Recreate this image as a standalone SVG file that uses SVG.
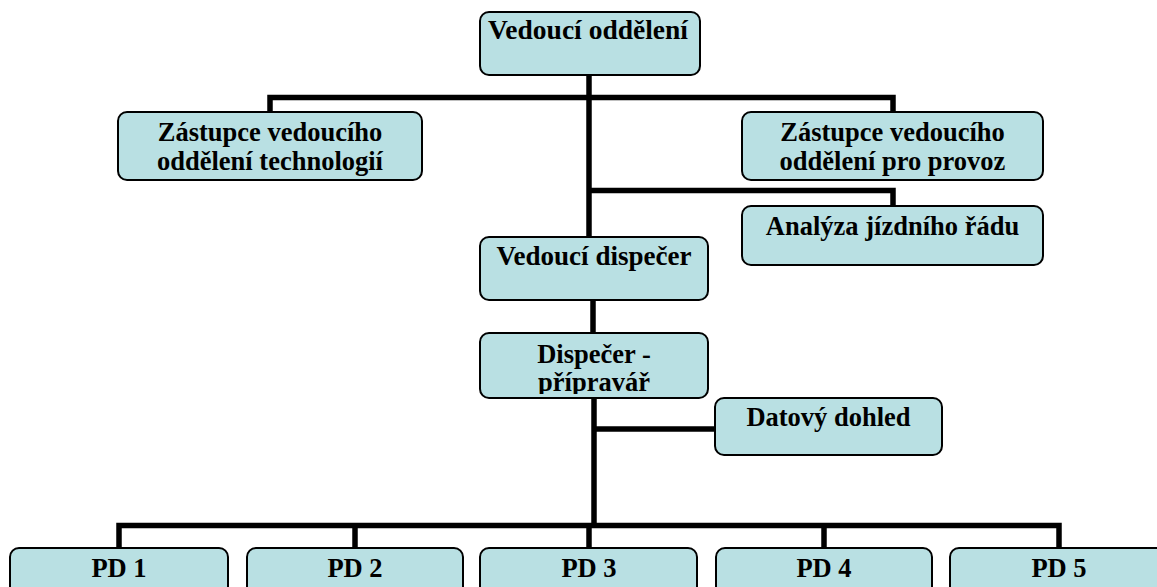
<svg xmlns="http://www.w3.org/2000/svg" width="1157" height="587" viewBox="0 0 1157 587">
<style>
.box{fill:#B9E0E3;stroke:#000;stroke-width:2}
.t{font-family:"Liberation Serif","Times New Roman",serif;font-weight:bold;font-size:26.5px;fill:#000;text-anchor:middle}
.c{fill:none;stroke:#000;stroke-width:5.5;stroke-linejoin:miter}
</style>
<defs>
<clipPath id="clipDisp"><rect x="480" y="333" width="228" height="61"/></clipPath>
</defs>
<rect width="1157" height="587" fill="#fff"/>
<g id="connectors">
<path class="c" d="M589 75 V237"/>
<path class="c" d="M270 112 V97.5 H893 V112"/>
<path class="c" d="M589 190.5 H893 V206"/>
<path class="c" d="M593 300 V333"/>
<path class="c" d="M594 398 V528"/>
<path class="c" d="M594 429 H715"/>
<path class="c" d="M119 548 V525.5 H1059 V548"/>
<path class="c" d="M355 525.5 V548"/>
<path class="c" d="M589 525.5 V548"/>
<path class="c" d="M824 525.5 V548"/>
</g>
<g id="n-vedouci-oddeleni">
<rect class="box" x="480" y="12" width="220" height="63" rx="9"/>
<text class="t" x="588" y="39" textLength="200" lengthAdjust="spacingAndGlyphs">Vedoucí oddělení</text>
</g>
<g id="n-zastupce-technologii">
<rect class="box" x="118" y="112" width="304" height="68" rx="9"/>
<text class="t" x="270" y="141">Zástupce vedoucího</text>
<text class="t" x="270" y="170">oddělení technologií</text>
</g>
<g id="n-zastupce-provoz">
<rect class="box" x="742" y="112" width="301" height="68" rx="9"/>
<text class="t" x="892.5" y="141">Zástupce vedoucího</text>
<text class="t" x="892.5" y="170">oddělení pro provoz</text>
</g>
<g id="n-analyza">
<rect class="box" x="742" y="206" width="301" height="59" rx="9"/>
<text class="t" x="892.5" y="235">Analýza jízdního řádu</text>
</g>
<g id="n-vedouci-dispecer">
<rect class="box" x="480" y="237" width="228" height="63" rx="9"/>
<text class="t" x="594" y="265" textLength="195" lengthAdjust="spacingAndGlyphs">Vedoucí dispečer</text>
</g>
<g id="n-dispecer-pripravar">
<rect class="box" x="480" y="333" width="228" height="65" rx="9"/>
<g clip-path="url(#clipDisp)">
<text class="t" x="594" y="363">Dispečer -</text>
<text class="t" x="594" y="391">přípravář</text>
</g>
</g>
<g id="n-datovy-dohled">
<rect class="box" x="715" y="398" width="227" height="57" rx="9"/>
<text class="t" x="828.5" y="426">Datový dohled</text>
</g>
<g id="n-pd1">
<rect class="box" x="10" y="548" width="218" height="60" rx="9"/>
<text class="t" x="119" y="577">PD 1</text>
</g>
<g id="n-pd2">
<rect class="box" x="247" y="548" width="216" height="60" rx="9"/>
<text class="t" x="355" y="577">PD 2</text>
</g>
<g id="n-pd3">
<rect class="box" x="480" y="548" width="217" height="60" rx="9"/>
<text class="t" x="589" y="577">PD 3</text>
</g>
<g id="n-pd4">
<rect class="box" x="716" y="548" width="216" height="60" rx="9"/>
<text class="t" x="824" y="577">PD 4</text>
</g>
<g id="n-pd5">
<rect class="box" x="950" y="548" width="218" height="60" rx="9"/>
<text class="t" x="1059" y="577">PD 5</text>
</g>
</svg>
